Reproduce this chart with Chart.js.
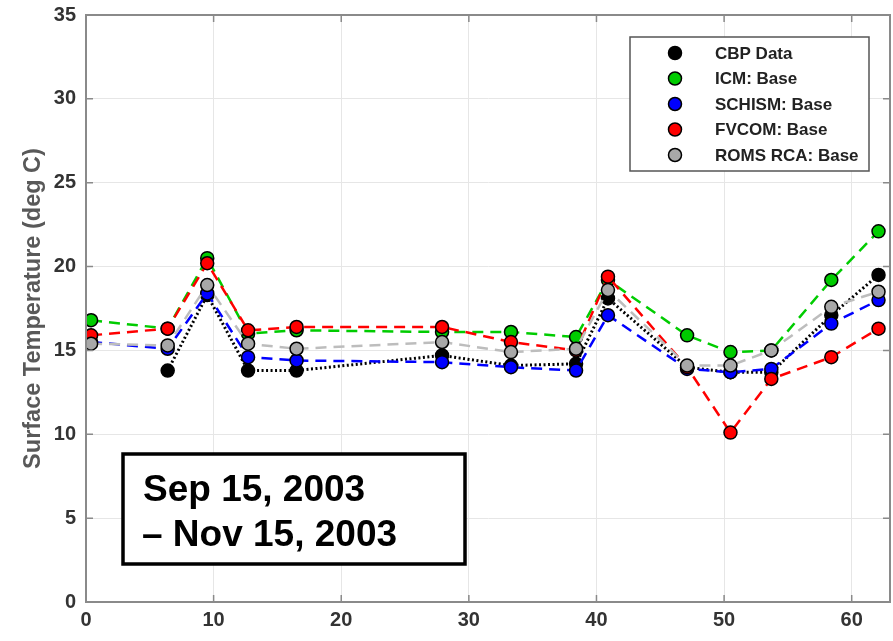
<!DOCTYPE html>
<html>
<head>
<meta charset="utf-8">
<script src="https://cdn.jsdelivr.net/npm/chart.js@4"></script>
<style>
  html, body { margin: 0; padding: 0; background: #fff; }
  #wrap { width: 893px; height: 641px; }
</style>
</head>
<body>
<div id="wrap"><canvas id="chart" width="893" height="641"></canvas></div>
<script>
// days since Sep 15, 2003
const days = [0.4, 6.4, 9.5, 12.7, 16.5, 27.9, 33.3, 38.4, 40.9, 47.1, 50.5, 53.7, 58.4, 62.1];

const cbpData = [null, 13.8, 18.3, 13.8, 13.8, 14.7, 14.1, 14.2, 18.1, 14.0, 13.7, 13.7, 17.1, 19.5];
const icmBase = [16.8, 16.3, 20.5, 16.0, 16.2, 16.1, 16.1, 15.8, 19.2, 15.9, 14.9, 15.0, 19.2, 22.1];
const schismBase = [15.5, 15.1, 18.4, 14.6, 14.4, 14.3, 14.0, 13.8, 17.1, 13.9, 13.7, 13.9, 16.6, 18.0];
const fvcomBase = [15.9, 16.3, 20.2, 16.2, 16.4, 16.4, 15.5, 15.0, 19.4, 14.0, 10.1, 13.3, 14.6, 16.3];
const romsBase = [15.4, 15.3, 18.9, 15.4, 15.1, 15.5, 14.9, 15.1, 18.6, 14.1, 14.1, 15.0, 17.6, 18.5];

const seriesNames = ["CBP Data", "ICM: Base", "SCHISM: Base", "FVCOM: Base", "ROMS RCA: Base"];
const dateLines = ["Sep 15, 2003", "\u2013 Nov 15, 2003"];

const FONT = "'Liberation Sans', Arial, sans-serif";

function pts(values) {
    return days.map((d, i) => ({ x: d, y: values[i] }));
}

function series(label, values, fill, line, dash, width, order) {
    return {
        label: label,
        data: pts(values),
        borderColor: line,
        backgroundColor: fill,
        borderDash: dash,
        borderWidth: width,
        pointRadius: 6.5,
        pointBorderWidth: 1.5,
        pointBorderColor: "#000000",
        pointBackgroundColor: fill,
        spanGaps: true,
        tension: 0,
        order: order,
    };
}

const DATASETS = [
    series(seriesNames[0], cbpData, "#000000", "#000000", [2, 2.5], 3, 5),
    series(seriesNames[1], icmBase, "#00cc00", "#00cc00", [11, 7], 2.5, 4),
    series(seriesNames[2], schismBase, "#0000ff", "#0000ff", [11, 7], 2.5, 3),
    series(seriesNames[3], fvcomBase, "#ff0000", "#ff0000", [11, 7], 2.5, 2),
    series(seriesNames[4], romsBase, "#a8a8a8", "#bdbdbd", [11, 7], 2.5, 1),
];

// frame, inside ticks, legend box and the date box
const decorations = {
    id: "decorations",
    afterDraw(chart) {
        const ctx = chart.ctx;
        const a = chart.chartArea;
        const xs = chart.scales.x;
        const ys = chart.scales.y;

        ctx.save();
        ctx.strokeStyle = "#8a8a8a";
        ctx.lineWidth = 1.5;
        ctx.beginPath();
        xs.ticks.forEach(t => {
            const px = xs.getPixelForValue(t.value);
            ctx.moveTo(px, a.bottom); ctx.lineTo(px, a.bottom - 7);
            ctx.moveTo(px, a.top); ctx.lineTo(px, a.top + 7);
        });
        ys.ticks.forEach(t => {
            const py = ys.getPixelForValue(t.value);
            ctx.moveTo(a.left, py); ctx.lineTo(a.left + 7, py);
            ctx.moveTo(a.right, py); ctx.lineTo(a.right - 7, py);
        });
        ctx.stroke();
        ctx.lineWidth = 2;
        ctx.strokeRect(a.left, a.top, a.right - a.left, a.bottom - a.top);

        // legend
        const lx = 630, ly = 37, lw = 239, lh = 134;
        ctx.fillStyle = "#ffffff";
        ctx.fillRect(lx, ly, lw, lh);
        ctx.strokeStyle = "#555555";
        ctx.lineWidth = 1.5;
        ctx.strokeRect(lx, ly, lw, lh);
        ctx.font = "bold 17px " + FONT;
        ctx.textBaseline = "middle";
        ctx.textAlign = "left";
        chart.data.datasets.forEach((ds, i) => {
            const cy = 53 + i * 25.5;
            ctx.beginPath();
            ctx.arc(675, cy, 6.5, 0, Math.PI * 2);
            ctx.fillStyle = ds.pointBackgroundColor;
            ctx.fill();
            ctx.lineWidth = 1.5;
            ctx.strokeStyle = "#000000";
            ctx.stroke();
            ctx.fillStyle = "#222222";
            ctx.fillText(ds.label, 715, cy + 1);
        });

        // date box
        ctx.fillStyle = "#ffffff";
        ctx.fillRect(123, 454, 342, 110);
        ctx.strokeStyle = "#000000";
        ctx.lineWidth = 3.5;
        ctx.strokeRect(123, 454, 342, 110);
        ctx.fillStyle = "#000000";
        ctx.font = "bold 37px " + FONT;
        ctx.textBaseline = "alphabetic";
        ctx.fillText(dateLines[0], 143, 501);
        ctx.fillText(dateLines[1], 142, 546);
        ctx.restore();
    },
};

const CONFIG = {
    type: "line",
    data: { datasets: DATASETS },
    options: {
        responsive: false,
        animation: false,
        layout: { autoPadding: false, padding: { left: 0, top: 15, right: 3, bottom: 0 } },
        plugins: {
            legend: { display: false },
            tooltip: { enabled: false },
        },
        scales: {
            x: {
                type: "linear",
                min: 0,
                max: 63,
                ticks: {
                    stepSize: 10,
                    includeBounds: false,
                    padding: 6,
                    color: "#333333",
                    font: { family: FONT, size: 20, weight: "bold" },
                },
                grid: { color: "#e6e6e6", lineWidth: 1, drawTicks: false },
                border: { color: "#8a8a8a", width: 2 },
                afterFit: function(axis) {
                    axis.height = 39;
                    axis.paddingLeft = 0;
                    axis.paddingRight = 0;
                },
            },
            y: {
                min: 0,
                max: 35,
                ticks: {
                    stepSize: 5,
                    padding: 10,
                    color: "#333333",
                    font: { family: FONT, size: 20, weight: "bold" },
                },
                grid: { color: "#e6e6e6", lineWidth: 1, drawTicks: false },
                border: { color: "#8a8a8a", width: 2 },
                title: {
                    display: true,
                    text: "Surface Temperature (deg C)",
                    color: "#595959",
                    font: { family: FONT, size: 23.5, weight: "bold" },
                    padding: { top: 19, bottom: 0 },
                },
                afterFit: function(axis) {
                    axis.width = 86;
                    axis.paddingTop = 0;
                    axis.paddingBottom = 0;
                },
            },
        },
    },
    plugins: [decorations],
};

const chart = new Chart(document.getElementById("chart"), CONFIG);
</script>
</body>
</html>
